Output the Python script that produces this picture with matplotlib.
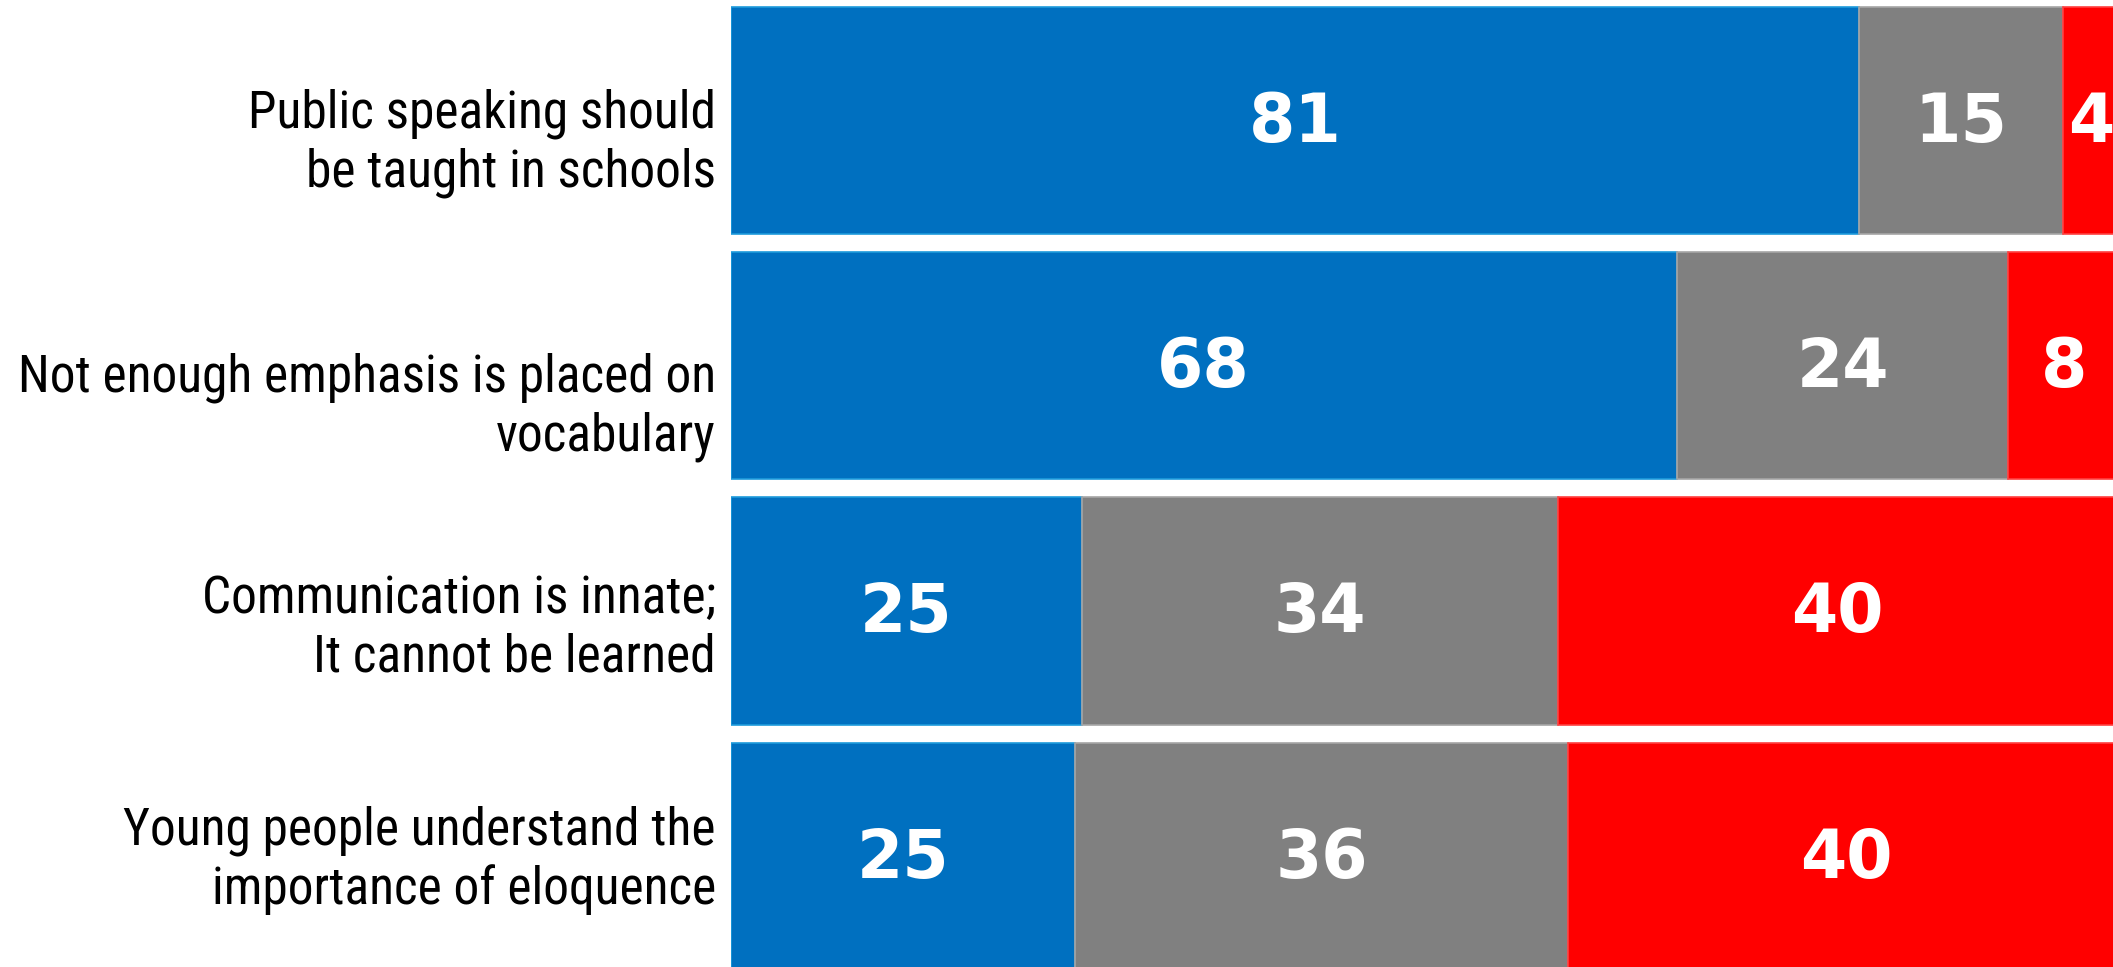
import matplotlib.pyplot as plt
import numpy as np

# statements, top to bottom
statements = [
    "Public speaking should\nbe taught in schools",
    "Not enough emphasis is placed on\nvocabulary",
    "Communication is innate;\nIt cannot be learned",
    "Young people understand the\nimportance of eloquence",
]

# segment widths (agree / neutral / disagree)
agree = [81.0, 67.9, 25.2, 24.7]
neutral = [14.6, 23.8, 34.2, 35.4]
disagree = [4.0, 8.0, 40.0, 40.0]

# numbers printed on the bars
agree_lbl = [81, 68, 25, 25]
neutral_lbl = [15, 24, 34, 36]
disagree_lbl = [4, 8, 40, 40]

colors = ['#0070C0', '#808080', '#FF0000']
edges = ['#1E9BDB', '#A6A6A6', '#FF4040']

fig = plt.figure(figsize=(21.13, 9.67), dpi=100)
ax = fig.add_axes([730.5 / 2113, 0, 1 - 730.5 / 2113, 1])

y = np.arange(len(statements))
left = np.zeros(len(statements))
for vals, lbls, c, ec in zip([agree, neutral, disagree],
                             [agree_lbl, neutral_lbl, disagree_lbl],
                             colors, edges):
    ax.barh(y, vals, left=left, height=0.925, color=c, edgecolor=ec, linewidth=1.2)
    for yi, l, v, t in zip(y, left, vals, lbls):
        ax.text(l + v / 2, yi + 0.01, str(t), ha='center', va='center',
                color='white', fontsize=48, fontweight='heavy',
                family=['DejaVu Sans'])
    left = left + np.array(vals)

ax.set_xlim(0, 99.2)
ax.set_ylim(3.45, -0.489)
ax.axis('off')

# statement labels at the left of the bars
nudge = [0.095, 0.17, 0.07, 0.015]
for yi, s, dy in zip(y, statements, nudge):
    ax.text(-1.05, yi + dy, s, ha='right', va='center', fontsize=37,
            family=['Roboto Condensed', 'DejaVu Sans'],
            fontstretch='condensed', linespacing=1.2, color='black')

fig.savefig('out.png', dpi=100)
